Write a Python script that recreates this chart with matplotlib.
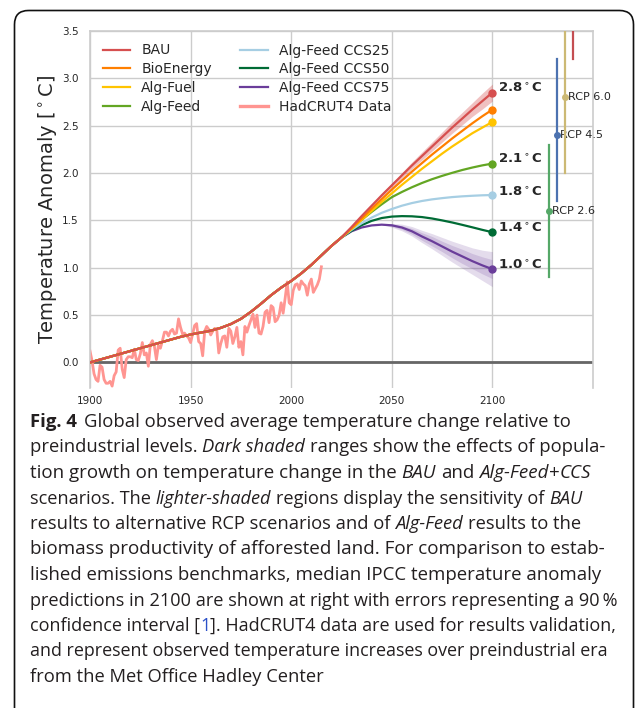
import matplotlib
matplotlib.use("Agg")
import matplotlib.pyplot as plt
from matplotlib.patches import FancyBboxPatch
from matplotlib.lines import Line2D

W, H, DPI = 635, 708, 100

# ---------------- data ----------------
hist_years = [1900, 1905, 1910, 1915, 1920, 1925, 1930, 1935, 1940, 1945, 1950, 1955, 1960,
              1965, 1970, 1975, 1980, 1985, 1990, 1995, 2000, 2005, 2010, 2015, 2020, 2025]
hist_temp = [0.00, 0.03, 0.06, 0.09, 0.12, 0.15, 0.18, 0.21, 0.24, 0.27, 0.295, 0.315, 0.335,
             0.365, 0.405, 0.46, 0.535, 0.62, 0.71, 0.79, 0.86, 0.94, 1.03, 1.13, 1.23, 1.32]

proj_years = [2030, 2035, 2040, 2045, 2050, 2055, 2060, 2065, 2070, 2075, 2080, 2085, 2090, 2095, 2100]
bau       = [1.43, 1.545, 1.655, 1.765, 1.87, 1.975, 2.08, 2.18, 2.28, 2.38, 2.48, 2.575, 2.67, 2.76, 2.85]
bioenergy = [1.42, 1.52, 1.625, 1.725, 1.825, 1.92, 2.015, 2.105, 2.195, 2.28, 2.365, 2.445, 2.525, 2.60, 2.67]
alg_fuel  = [1.41, 1.505, 1.60, 1.695, 1.785, 1.875, 1.96, 2.045, 2.125, 2.205, 2.28, 2.35, 2.42, 2.48, 2.54]
alg_feed  = [1.415, 1.505, 1.59, 1.67, 1.745, 1.80, 1.85, 1.895, 1.935, 1.97, 2.002, 2.032, 2.058, 2.081, 2.10]
ccs25     = [1.40, 1.47, 1.53, 1.58, 1.62, 1.655, 1.683, 1.705, 1.722, 1.735, 1.746, 1.754, 1.76, 1.765, 1.768]
ccs50     = [1.39, 1.45, 1.495, 1.525, 1.54, 1.545, 1.543, 1.535, 1.52, 1.50, 1.478, 1.453, 1.427, 1.40, 1.375]
ccs75     = [1.385, 1.425, 1.447, 1.455, 1.448, 1.425, 1.385, 1.33, 1.28, 1.225, 1.17, 1.12, 1.07, 1.025, 0.985]

scenario_names = ["BAU", "BioEnergy", "Alg-Fuel", "Alg-Feed",
                  "Alg-Feed CCS25", "Alg-Feed CCS50", "Alg-Feed CCS75"]
scenario_values = [bau, bioenergy, alg_fuel, alg_feed, ccs25, ccs50, ccs75]
scenario_colors = ["#d64f4f", "#ff7f00", "#ffc400", "#63a623",
                   "#a6cee3", "#006b35", "#6a3d9a"]

end_labels = ["2.8", "2.1", "1.8", "1.4", "1.0"]
end_label_y = [2.85, 2.10, 1.76, 1.37, 0.98]

bau_band_hi = [1.43, 1.551, 1.667, 1.783, 1.894, 2.005, 2.116, 2.222, 2.328, 2.434, 2.54, 2.641, 2.742, 2.844, 2.94]
bau_band_lo = [1.43, 1.539, 1.643, 1.747, 1.846, 1.945, 2.044, 2.138, 2.232, 2.326, 2.42, 2.509, 2.598, 2.676, 2.76]

band75_years = [2045, 2050, 2055, 2060, 2065, 2070, 2075, 2080, 2085, 2090, 2095, 2100]
ccs75_light_hi = [1.455, 1.468, 1.46, 1.435, 1.395, 1.36, 1.32, 1.28, 1.245, 1.21, 1.185, 1.17]
ccs75_light_lo = [1.455, 1.428, 1.39, 1.335, 1.265, 1.20, 1.13, 1.06, 0.995, 0.93, 0.865, 0.80]
ccs75_dark_hi = [1.455, 1.458, 1.445, 1.415, 1.37, 1.33, 1.28, 1.235, 1.195, 1.15, 1.115, 1.085]
ccs75_dark_lo = [1.455, 1.438, 1.405, 1.355, 1.29, 1.23, 1.17, 1.105, 1.045, 0.99, 0.935, 0.885]

hadcrut_years = list(range(1900, 2016))
hadcrut_temp = [
    0.12, 0.02, -0.12, -0.18, -0.20, -0.03, -0.05, -0.18, -0.22, -0.22,
    -0.20, -0.25, -0.14, -0.10, 0.13, 0.15, -0.07, -0.16, 0.03, 0.06,
    0.06, 0.05, 0.14, 0.03, 0.02, 0.09, 0.21, 0.08, 0.10, -0.04,
    0.19, 0.23, 0.17, 0.03, 0.18, 0.15, 0.23, 0.32, 0.32, 0.28,
    0.33, 0.35, 0.30, 0.31, 0.46, 0.37, 0.30, 0.31, 0.28, 0.26,
    0.21, 0.30, 0.39, 0.41, 0.22, 0.20, 0.07, 0.33, 0.38, 0.35,
    0.29, 0.33, 0.36, 0.35, 0.10, 0.20, 0.27, 0.28, 0.16, 0.36,
    0.33, 0.20, 0.27, 0.37, 0.16, 0.22, 0.08, 0.38, 0.32, 0.39,
    0.45, 0.51, 0.37, 0.50, 0.31, 0.30, 0.38, 0.53, 0.55, 0.42,
    0.60, 0.58, 0.43, 0.45, 0.50, 0.63, 0.52, 0.68, 0.85, 0.63,
    0.61, 0.76, 0.82, 0.83, 0.77, 0.86, 0.83, 0.81, 0.71, 0.83,
    0.88, 0.74, 0.78, 0.82, 0.88, 1.01]
hadcrut_color = "#ff9591"

rcp_names = ["RCP 2.6", "RCP 4.5", "RCP 6.0", "RCP 8.5"]
rcp_x = [2128, 2132, 2136, 2140]
rcp_median = [1.6, 2.4, 2.8, 4.3]
rcp_low = [0.9, 1.7, 2.0, 3.2]
rcp_high = [2.3, 3.2, 3.7, 5.4]
rcp_colors = ["#55a868", "#4c72b0", "#ccb974", "#c44e52"]

xticks = [1900, 1950, 2000, 2050, 2100]
yticks = [0.0, 0.5, 1.0, 1.5, 2.0, 2.5, 3.0, 3.5]
YMIN, YMAX = -0.27, 3.5

caption_lines = [
    [("Fig. 4", "b"), ("Global observed average temperature change relative to", "r")],
    [("preindustrial levels.", "r"), ("Dark shaded", "i"), ("ranges show the effects of popula-", "r")],
    [("tion growth on temperature change in the", "r"), ("BAU", "i"), ("and", "r"),
     ("Alg-Feed", "i", "nospace"), ("+", "r", "nospace"), ("CCS", "i")],
    [("scenarios. The", "r"), ("lighter-shaded", "i"), ("regions display the sensitivity of", "r"), ("BAU", "i")],
    [("results to alternative RCP scenarios and of", "r"), ("Alg-Feed", "i"), ("results to the", "r")],
    [("biomass productivity of afforested land. For comparison to estab-", "r")],
    [("lished emissions benchmarks, median IPCC temperature anomaly", "r")],
    [("predictions in 2100 are shown at right with errors representing a 90\u2009%", "r")],
    [("confidence interval [", "r", "nospace"), ("1", "blue", "nospace"),
     ("]. HadCRUT4 data are used for results validation,", "r")],
    [("and represent observed temperature increases over preindustrial era", "r")],
    [("from the Met Office Hadley Center", "r")],
]
# right-hand end (pixels) of each caption line in the reference layout
caption_line_ends = [572, 608, 591, 583, 582, 607, 603, 621, 619, 612, 325]

# ---------------- figure ----------------
fig = plt.figure(figsize=(W / DPI, H / DPI), dpi=DPI)
fig.patch.set_facecolor("white")

# frame around the figure
bg = fig.add_axes([0, 0, 1, 1], zorder=-10)
bg.set_xlim(0, W)
bg.set_ylim(H, 0)
bg.axis("off")
bg.add_patch(FancyBboxPatch((14.5, 10.5), 619, 760, boxstyle="round,pad=0,rounding_size=14",
                            fc="none", ec="#111111", lw=1.2))

ax = fig.add_axes([90 / W, 1 - 388 / H, 503 / W, (388 - 31) / H])
ax.set_facecolor("white")
ax.set_xlim(1900, 2150)
ax.set_ylim(YMIN, YMAX)
ax.set_xticks(xticks)
ax.set_yticks(yticks)
ax.set_yticklabels([f"{v:.1f}" for v in yticks])
ax.grid(True, color="#cccccc", lw=1.0, zorder=0)
ax.set_axisbelow(True)
for side in ["left", "right", "top"]:
    ax.spines[side].set_color("#cccccc")
    ax.spines[side].set_linewidth(1.2)
ax.spines["bottom"].set_visible(False)
ax.tick_params(length=0, labelsize=7.5, labelcolor="#262626")
ax.tick_params(axis="y", pad=8)
ax.tick_params(axis="x", pad=6)
ax.set_ylabel(r"Temperature Anomaly [$^\circ$C]", fontsize=14, color="#262626", labelpad=2)

ax.axhline(0, color="#666666", lw=2, zorder=1)

# HadCRUT4
ax.plot(hadcrut_years, hadcrut_temp, color=hadcrut_color, lw=2.0, zorder=2, solid_joinstyle="round")

# bands
ax.fill_between(proj_years, bau_band_lo, bau_band_hi, color="#d64f4f", alpha=0.35, lw=0, zorder=2)
ax.fill_between(band75_years, ccs75_light_lo, ccs75_light_hi, color="#6a3d9a", alpha=0.18, lw=0, zorder=2)
ax.fill_between(band75_years, ccs75_dark_lo, ccs75_dark_hi, color="#6a3d9a", alpha=0.18, lw=0, zorder=2)

# scenarios (drawn in reverse so BAU sits on top of the shared history)
items = list(zip(scenario_names, scenario_values, scenario_colors))
for k, (name, vals, col) in enumerate(reversed(items)):
    ax.plot(hist_years + proj_years, hist_temp + vals, color=col, lw=1.6, zorder=3 + 0.01 * k)
    ax.plot([proj_years[-1]], [vals[-1]], "o", color=col, ms=5, zorder=4, clip_on=False)

for lab, yv in zip(end_labels, end_label_y):
    ax.text(2103, yv + 0.04, lab + r"$^\circ$C", fontsize=9.5, fontweight="bold",
            color="#262626", ha="left", va="center")

# RCP bars
for name, xx, med, lo, hi, col in zip(rcp_names, rcp_x, rcp_median, rcp_low, rcp_high, rcp_colors):
    ax.plot([xx, xx], [lo, hi], color=col, lw=1.6, zorder=3)
    ax.plot([xx], [med], "o", color=col, ms=4, zorder=4)
    if med <= YMAX:
        ax.text(xx + 1.4, med, name, fontsize=8, color="#262626", ha="left", va="center",
                clip_on=False)

# legend
handles = [Line2D([], [], color=c, lw=1.6) for c in scenario_colors]
handles.append(Line2D([], [], color=hadcrut_color, lw=2.4))
labels = scenario_names + ["HadCRUT4 Data"]
ax.legend(handles, labels, ncol=2, loc="upper left", frameon=False, fontsize=10,
          labelspacing=0.35, handlelength=2.0, handletextpad=0.8, columnspacing=2.0,
          borderaxespad=0.5, borderpad=0.4, labelcolor="#262626")

# ---------------- caption ----------------
CAP_FONT = ["Open Sans", "DejaVu Sans"]
CAP_SIZE = 13.2
renderer = fig.canvas.get_renderer()


def style_kw(style, size):
    kw = dict(fontsize=size, family=CAP_FONT, color="#231f20")
    if style == "b":
        kw["fontweight"] = "bold"
    elif style == "i":
        kw["fontstyle"] = "italic"
    elif style == "blue":
        kw["color"] = "#2b50c8"
    return kw


def adv_width(s, style, size):
    t = fig.text(0, 0, "|" + s + "|", **style_kw(style, size))
    w1 = t.get_window_extent(renderer).width
    t.set_text("||")
    w2 = t.get_window_extent(renderer).width
    t.remove()
    return w1 - w2


def layout_line(line, size):
    sw = adv_width(" ", "r", size)
    pos = []
    x = 0.0
    for n, piece in enumerate(line):
        txt, style = piece[0], piece[1]
        nospace = len(piece) > 2 and piece[2] == "nospace"
        pos.append(x)
        x += adv_width(txt, style, size)
        if not nospace and n < len(line) - 1:
            x += sw * (1.6 if style == "b" else 1.0)
    return pos, x


X0 = 30
baseline0 = 427
line_step = 25.5
for i, (line, xend) in enumerate(zip(caption_lines, caption_line_ends)):
    _, natural = layout_line(line, CAP_SIZE)
    size = CAP_SIZE * (xend - X0) / natural
    pos, _ = layout_line(line, size)
    yb = baseline0 + i * line_step
    for piece, px in zip(line, pos):
        fig.text((X0 + px) / W, 1 - yb / H, piece[0], ha="left", va="baseline",
                 **style_kw(piece[1], size))

fig.savefig("out.png", dpi=DPI, facecolor="white")
